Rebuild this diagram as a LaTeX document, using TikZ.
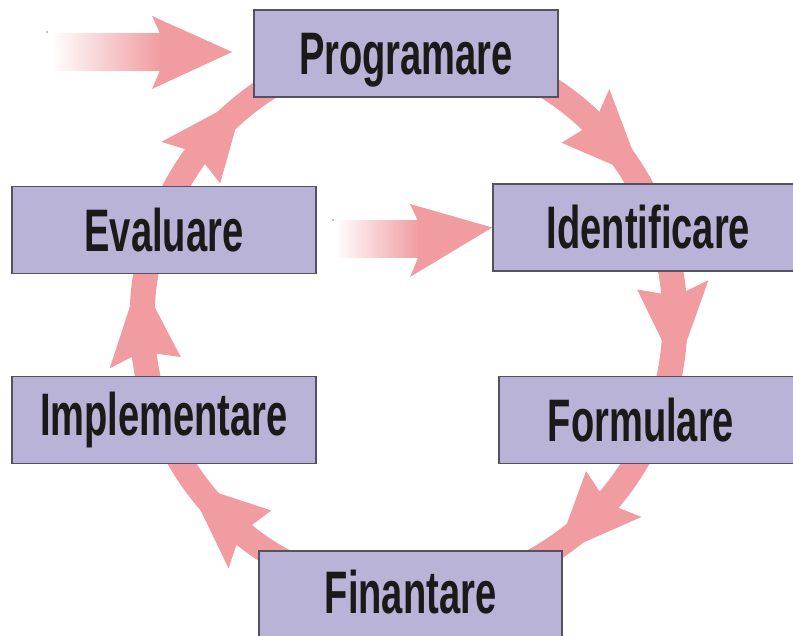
\documentclass[tikz,border=0pt]{standalone}
\usepackage{graphicx}
\usepackage{fontspec}
\setmainfont{Liberation Sans}
\usetikzlibrary{calc}
\pgfdeclarelayer{ringlayer}
\pgfsetlayers{ringlayer,main}
\definecolor{ringc}{RGB}{240,156,160}
\definecolor{boxfill}{RGB}{186,179,216}
\definecolor{boxline}{RGB}{85,82,95}
\definecolor{txt}{RGB}{28,25,25}
\tikzset{
  box/.style={draw=boxline, line width=1.5pt, fill=boxfill, minimum height=87pt,
    inner sep=0pt, text height=43pt, text depth=0pt,
    font=\fontsize{60}{60}\selectfont\bfseries, text=txt},
  ring/.style={draw=ringc, line width=25pt},
  head/.style={fill=ringc},
}
\newcommand\lbl[1]{\scalebox{0.635}[1]{#1}}
\newcommand\ringhead[1]{%
  \pgfmathsetmacro\hb{#1}\pgfmathsetmacro\hn{#1-1.6}\pgfmathsetmacro\hf{#1-12}%
  \fill[head] (\hn:254.5pt and 261pt) -- (\hb:230.5pt and 237pt) -- (\hf:254.5pt and 261pt)
    -- (\hf:278.5pt and 285pt) -- (\hb:302.5pt and 309pt) -- (\hn:278.5pt and 285pt) -- cycle;}
\begin{document}
\begin{tikzpicture}[x=1pt,y=1pt]
\useasboundingbox (0,0) rectangle (793,635);
% boxes
\node[box, minimum width=304pt] (prog) at (406,581.5) {\lbl{Programare}};
\node[box, minimum width=311pt] (ident) at (648.5,407.5) {\lbl{Identificare}};
\node[box, minimum width=305pt] (form) at (651.5,215) {\hspace*{-21pt}\lbl{Formulare}};
\node[box, minimum width=303pt, minimum height=93pt] (fin) at (410.5,37.5) {\raisebox{5.5pt}{\lbl{Finantare}}};
\node[box, minimum width=304pt] (impl) at (164,215) {\raisebox{6pt}{\lbl{Implementare}}};
\node[box, minimum width=304pt] (eval) at (164,405) {\lbl{Evaluare}};
\begin{pgfonlayer}{ringlayer}
  % entry arrows
  \coordinate (inA) at (51,583);
  \coordinate (inB) at (335,395.5);
  \shade[left color=white, right color=ringc] (inA) ++(0,-18.5) rectangle (161,601.5);
  \fill[head] (160,601.5) -- (152,619) -- ($(prog.west)+(-21,1.5)$) -- (152,546) -- (160,564.5) -- cycle;
  \shade[left color=white, right color=ringc] (inB) ++(0,-18.5) rectangle (419,414);
  \fill[head] (418,414) -- (410,431) -- (ident.west) -- (410,358) -- (418,377) -- cycle;
  \fill[black] (47,603) circle (0.6pt);
  \fill[black] (333,415) circle (0.6pt);
  % the cycle
  \begin{scope}[shift={(408.5,315)}]
    \coordinate (rP) at (90:266.5pt and 273pt);
    \coordinate (rI) at (19.8:266.5pt and 273pt);
    \coordinate (rF) at (-21.5:266.5pt and 273pt);
    \coordinate (rN) at (-90:266.5pt and 273pt);
    \coordinate (rM) at (201.5:266.5pt and 273pt);
    \coordinate (rE) at (160.7:266.5pt and 273pt);
    \draw[ring] (rP) arc[start angle=90, end angle=19.8, x radius=266.5pt, y radius=273pt];
    \draw[ring] (rI) arc[start angle=19.8, end angle=-21.5, x radius=266.5pt, y radius=273pt];
    \draw[ring] (rF) arc[start angle=-21.5, end angle=-90, x radius=266.5pt, y radius=273pt];
    \draw[ring] (rN) arc[start angle=270, end angle=201.5, x radius=266.5pt, y radius=273pt];
    \draw[ring] (rM) arc[start angle=201.5, end angle=160.7, x radius=266.5pt, y radius=273pt];
    \draw[ring] (rE) arc[start angle=160.7, end angle=90, x radius=266.5pt, y radius=273pt];
    \ringhead{48.4}
    \ringhead{7.4}
    \ringhead{-39.6}
    \ringhead{233.5}
    \ringhead{189}
    \ringhead{144.8}
  \end{scope}
\end{pgfonlayer}
\end{tikzpicture}
\end{document}
